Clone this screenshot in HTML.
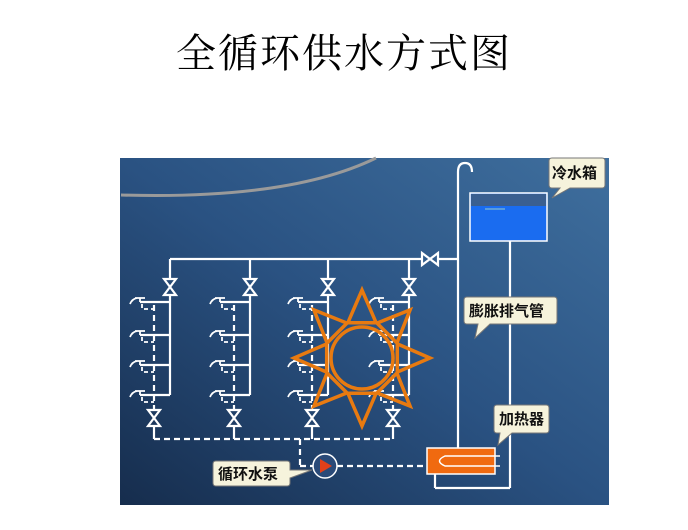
<!DOCTYPE html>
<html><head><meta charset="utf-8"><style>
html,body{margin:0;padding:0;background:#fff;width:688px;height:530px;overflow:hidden}
.t{position:absolute;left:0;top:22px;width:688px;text-align:center;font:40px "Liberation Serif","Noto Serif CJK SC",serif;color:#000;letter-spacing:2px}
svg{position:absolute;left:0;top:0}
</style></head><body>
<div class="t">全循环供水方式图</div>
<svg id="s" width="688" height="530" xmlns="http://www.w3.org/2000/svg">
<defs>
<linearGradient id="bg" x1="1" y1="0" x2="0" y2="1">
<stop offset="0" stop-color="#3f6f9e"/><stop offset="0.5" stop-color="#2a5282"/><stop offset="1" stop-color="#162d4d"/>
</linearGradient>
</defs>
<rect x="120" y="158" width="489" height="347" fill="url(#bg)"/>
<path d="M121 195 Q290 200 376 158" stroke="#9a9a9a" stroke-width="3" fill="none"/>
<g id="g" stroke="#fff" stroke-width="2.2" fill="none"></g>
<!-- tank -->
<rect x="470" y="193" width="77" height="48" fill="#1a6cf0" stroke="#fff" stroke-width="1.5"/>
<rect x="471" y="194" width="75" height="12" fill="#3a5f90"/>
<line x1="485" y1="209" x2="505" y2="209" stroke="#9cc" stroke-width="1"/>
<!-- heater -->
<rect x="427" y="448" width="68" height="26" fill="#f06a10" stroke="#fff" stroke-width="1.5"/>
<path d="M500 456 H445 Q434 461 445 466 H500" stroke="#fff" stroke-width="1.5" fill="none"/>
<!-- pump -->
<circle cx="325" cy="466" r="12" fill="#2a4a78" stroke="#fff" stroke-width="1.5"/>
<path d="M320 459 L332 466 L320 473 Z" fill="#e0401a"/>
<!-- sun -->
<g id="sun" stroke="#e87a10" stroke-width="3.5" fill="none" stroke-linejoin="miter"></g>
<!-- labels -->
<g font-family="'Liberation Sans','Noto Sans CJK SC',sans-serif" font-weight="bold" font-size="15" fill="#111">
<path d="M552 158 H602 Q605 158 605 161 V185 Q605 188 602 188 H570 L552 198 L560 188 H552 Q549 188 549 185 V161 Q549 158 552 158Z" fill="#f6f3dc" stroke="#777"/>
<text x="552" y="178">冷水箱</text>
<path d="M467 297 H554 Q557 297 557 300 V321 Q557 324 554 324 H490 L475 338 L478 324 H467 Q464 324 464 321 V300 Q464 297 467 297Z" fill="#f6f3dc" stroke="#777"/>
<text x="469" y="316">膨胀排气管</text>
<path d="M497 405 H546 Q549 405 549 408 V430 Q549 433 546 433 H512 L498 445 L500 433 H497 Q494 433 494 430 V408 Q494 405 497 405Z" fill="#f6f3dc" stroke="#777"/>
<text x="499" y="424">加热器</text>
<path d="M216 461 H287 Q290 461 290 464 V470 L312 470 L290 478 V483 Q290 486 287 486 H216 Q213 486 213 483 V464 Q213 461 216 461Z" fill="#f6f3dc" stroke="#777"/>
<text x="218" y="479">循环水泵</text>
</g>
</svg>
<script>
var g=document.getElementById('g'),h='';
function L(a,b,c,d,dash){h+='<line x1="'+a+'" y1="'+b+'" x2="'+c+'" y2="'+d+'"'+(dash?' stroke-dasharray="6 4"':'')+'/>';}
function VV(x,y){h+='<path d="M'+(x-6)+' '+(y-8)+' H'+(x+6)+' L'+(x-6)+' '+(y+8)+' H'+(x+6)+' Z"/>';}
function HV(x,y){h+='<path d="M'+(x-8)+' '+(y-6)+' V'+(y+6)+' L'+(x+8)+' '+(y-6)+' V'+(y+6)+' Z"/>';}
L(458,172,458,448);h+='<path d="M458 172 Q458 163 465 163 Q472 163 472 172"/>';
L(170,259,422,259);L(438,259,458,259);HV(430,259);
L(510,241,510,488);L(435,474,435,488);L(435,488,510,488);
[170,250,328,409].forEach(function(X){
 L(X,259,X,279);VV(X,287);L(X,295,X,395);
 var R=X-16;
 [302,335,365,395].forEach(function(y){
  L(X,y,X-30,y);
  h+='<path stroke-width="1.8" d="M'+(X-30)+' '+y+' V'+(y-4)+' M'+(X-35)+' '+(y-4)+' H'+(X-25)+' M'+(X-33)+' '+(y-4)+' Q'+(X-38)+' '+(y-3)+' '+(X-40)+' '+(y+2)+'"/>';
  h+='<path stroke-width="1.8" d="M'+(X-28)+' '+(y+2)+' V'+(y+7)+' H'+R+'" stroke-dasharray="4 3"/>';
 });
 L(R,305,R,410,1);VV(R,418);L(R,426,R,439);
});
L(154,439,393,439,1);L(300,439,300,466,1);L(300,466,313,466,1);L(337,466,427,466,1);
g.innerHTML=h;
var s='',cx=362,cy=358;
s+='<circle cx="'+cx+'" cy="'+cy+'" r="31"/>';
for(var i=0;i<8;i++){var a=i*Math.PI/4-Math.PI/2,p=function(r,da){return (cx+r*Math.cos(a+da)).toFixed(1)+' '+(cy+r*Math.sin(a+da)).toFixed(1);};
 s+='<path d="M'+p(38,-0.38)+' L'+p(68,0)+' L'+p(38,0.38)+' Z"/>';}
document.getElementById('sun').innerHTML=s;
</script>
</body></html>
